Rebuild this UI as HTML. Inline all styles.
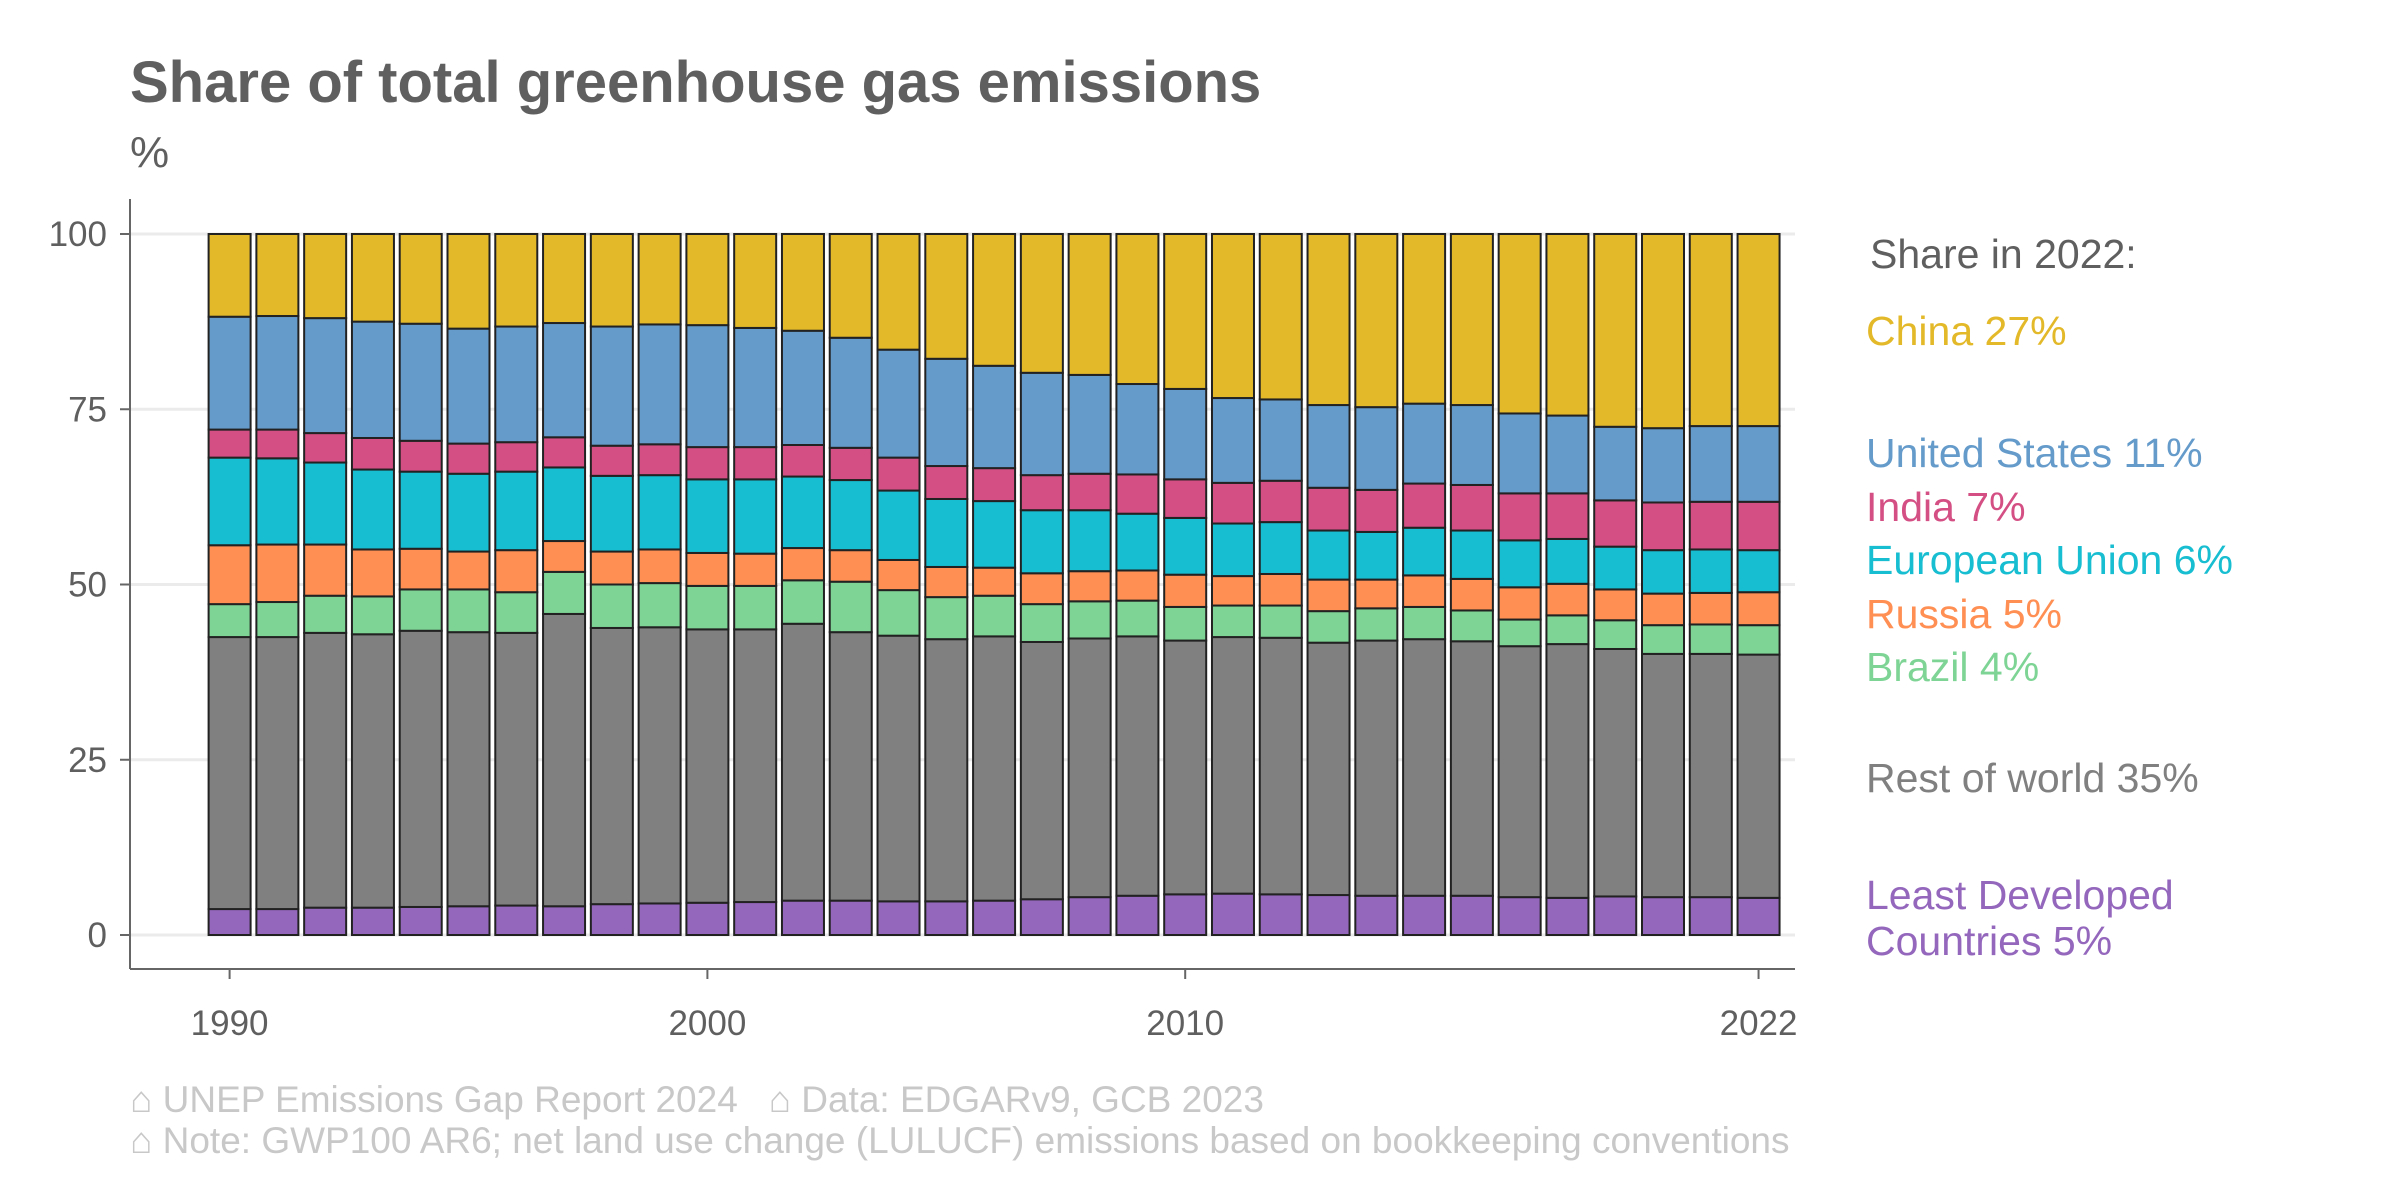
<!DOCTYPE html>
<html><head><meta charset="utf-8"><style>
body{margin:0;background:#fff}
svg{display:block;font-family:"Liberation Sans",Arial,sans-serif}
</style></head><body>
<svg id="chart" width="2400" height="1200" viewBox="0 0 2400 1200">
<text x="130" y="102" font-size="58" font-weight="bold" fill="#5f5f5f">Share of total greenhouse gas emissions</text>
<text x="130" y="167" font-size="44" fill="#5f5f5f">%</text>
<g id="grid"></g>
<g id="bars"></g>
<g id="axes"></g>
<g font-size="41">
<text x="1870" y="268" fill="#5f5f5f">Share in 2022:</text>
<text x="1866" y="345" fill="#E3B92A">China 27%</text>
<text x="1866" y="467" fill="#649BCB">United States 11%</text>
<text x="1866" y="521" fill="#D44F83">India 7%</text>
<text x="1866" y="574" fill="#17BDD0">European Union 6%</text>
<text x="1866" y="628" fill="#FF8F53">Russia 5%</text>
<text x="1866" y="681" fill="#7ED495">Brazil 4%</text>
<text x="1866" y="792" fill="#808080">Rest of world 35%</text>
<text x="1866" y="909" fill="#9467BD">Least Developed</text>
<text x="1866" y="955" fill="#9467BD">Countries 5%</text>
</g>
<g font-size="37" fill="#c8c8c8">
<text x="130" y="1112">⌂ UNEP Emissions Gap Report 2024&#160;&#160;&#160;⌂ Data: EDGARv9, GCB 2023</text>
<text x="130" y="1153">⌂ Note: GWP100 AR6; net land use change (LULUCF) emissions based on bookkeeping conventions</text>
</g>
</svg>
<script>
// cumulative stack tops (%) per year 1990..2022
const years = [];
for (let y = 1990; y <= 2022; y++) years.push(y);
const ldcTop = [3.7,3.7,3.9,3.9,4.0,4.1,4.2,4.1,4.4,4.5,4.6,4.7,4.9,4.9,4.8,4.8,4.9,5.1,5.4,5.6,5.8,5.9,5.8,5.7,5.6,5.6,5.6,5.4,5.3,5.5,5.4,5.4,5.3];
const restTop = [42.5,42.5,43.1,42.9,43.4,43.2,43.1,45.8,43.8,43.9,43.6,43.6,44.4,43.2,42.7,42.2,42.6,41.8,42.3,42.6,42.0,42.5,42.4,41.7,42.0,42.2,41.9,41.2,41.5,40.8,40.1,40.1,40.0];
const brazilTop = [47.2,47.5,48.4,48.3,49.3,49.3,48.9,51.8,50.0,50.2,49.8,49.8,50.6,50.4,49.2,48.2,48.4,47.2,47.6,47.7,46.8,47.0,47.0,46.2,46.6,46.8,46.3,45.0,45.6,44.9,44.2,44.3,44.2];
const russiaTop = [55.6,55.7,55.7,55.0,55.1,54.7,54.9,56.2,54.7,55.0,54.5,54.4,55.2,54.9,53.5,52.5,52.4,51.6,51.9,52.0,51.4,51.2,51.5,50.7,50.7,51.3,50.8,49.6,50.1,49.3,48.7,48.8,48.9];
const euTop = [68.1,68.0,67.4,66.4,66.1,65.8,66.1,66.7,65.5,65.6,65.0,65.0,65.4,64.9,63.4,62.2,61.9,60.6,60.6,60.1,59.5,58.7,58.9,57.7,57.5,58.1,57.7,56.3,56.5,55.4,54.9,55.0,54.9];
const indiaTop = [72.1,72.1,71.6,70.9,70.5,70.1,70.3,71.0,69.8,70.0,69.6,69.6,69.9,69.5,68.1,66.9,66.6,65.6,65.8,65.7,65.0,64.5,64.8,63.8,63.5,64.4,64.2,63.0,63.0,62.0,61.7,61.8,61.8];
const usTop = [88.2,88.3,88.0,87.5,87.2,86.5,86.8,87.3,86.8,87.1,87.0,86.6,86.2,85.2,83.5,82.2,81.2,80.2,79.9,78.6,77.9,76.6,76.4,75.6,75.3,75.8,75.6,74.4,74.1,72.5,72.3,72.6,72.6];
const chinaTop = [100,100,100,100,100,100,100,100,100,100,100,100,100,100,100,100,100,100,100,100,100,100,100,100,100,100,100,100,100,100,100,100,100];
const seriesNames = ["ldc","rest-of-world","brazil","russia","eu","india","united-states","china"];
const seriesColors = ["#9467BD","#808080","#7ED495","#FF8F53","#17BDD0","#D44F83","#649BCB","#E3B92A"];
const yTicks = [0,25,50,75,100];
const xTicks = [1990,2000,2010,2022];

const NS = "http://www.w3.org/2000/svg";
const X0 = 130, XR = 1795, YB = 969, YT = 199;
const xs = yr => 229.6 + (yr - 1990) * 47.78;
const ys = v => 935 - v * 7.01;
const barW = 42;
function mk(tag, attrs, parent) {
  const e = document.createElementNS(NS, tag);
  for (const k in attrs) e.setAttribute(k, attrs[k]);
  parent.appendChild(e);
  return e;
}
const grid = document.getElementById("grid");
const axes = document.getElementById("axes");
const bars = document.getElementById("bars");
yTicks.forEach(t => {
  const g = mk("line", {x1: X0, x2: XR, y1: ys(t), y2: ys(t), stroke: "#ebebeb", "stroke-width": 3}, grid);
  
  
  const tk = mk("line", {x1: X0 - 10, x2: X0, y1: ys(t), y2: ys(t), stroke: "#666", "stroke-width": 2}, axes);
  
  
  const lb = mk("text", {x: 107, y: ys(t) + 12, "text-anchor": "end", "font-size": 35, fill: "#5f5f5f"}, axes);
  lb.textContent = t;
  
  
});
const tops = [ldcTop, restTop, brazilTop, russiaTop, euTop, indiaTop, usTop, chinaTop];
years.forEach((yr, i) => {
  let prev = 0;
  tops.forEach((arr, s) => {
    const top = arr[i];
    const r = mk("rect", {x: xs(yr) - barW / 2, y: ys(top), width: barW, height: ys(prev) - ys(top), fill: seriesColors[s], stroke: "#222", "stroke-width": 2}, bars);
    
    
    prev = top;
  });
});
const ya = mk("line", {x1: X0, x2: X0, y1: YT, y2: YB, stroke: "#666", "stroke-width": 2}, axes);


const xa = mk("line", {x1: X0, x2: XR, y1: YB, y2: YB, stroke: "#666", "stroke-width": 2}, axes);


xTicks.forEach(t => {
  const tk = mk("line", {x1: xs(t), x2: xs(t), y1: YB, y2: YB + 10, stroke: "#666", "stroke-width": 2}, axes);
  
  
  const lb = mk("text", {x: xs(t), y: 1035, "text-anchor": "middle", "font-size": 35, fill: "#5f5f5f"}, axes);
  lb.textContent = t;
  
  
});
</script>
</body></html>
